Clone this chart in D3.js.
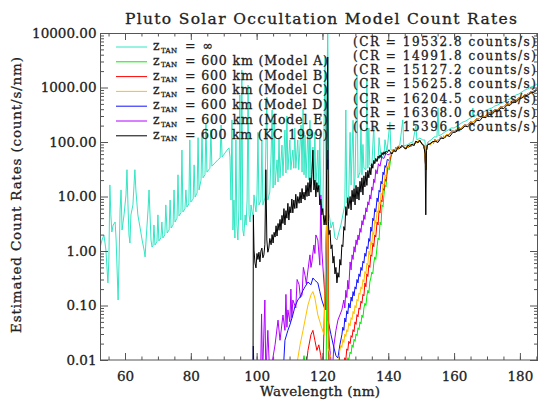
<!DOCTYPE html>
<html>
<head>
<meta charset="utf-8">
<script src="https://cdn.jsdelivr.net/npm/d3@7/dist/d3.min.js"></script>
<style>
  body { margin: 0; background: #fff; }
  svg text { font-family: "DejaVu Serif", serif; fill: #222; stroke: #222; stroke-width: 0.3px; }
</style>
</head>
<body>
<svg id="chart" width="542" height="403"></svg>
<script>
// [wavelength nm, count rate counts/s/nm]
var zInf = [
    [52.4,1.13],[53.0,1.59],[53.6,1.97],[54.2,1.04],[54.8,0.26],[55.1,0.68],[55.4,16.3],[55.7,4.6],[56.0,2.23],
    [56.4,3.0],[57.0,3.4],[57.3,1.59],[57.9,0.126],[58.2,0.68],[58.5,5.65],[58.8,13.2],[59.1,2.43],[59.7,4.6],
    [60.3,10.7],[60.6,31],[60.9,7.0],[61.2,1.97],[61.5,1.40],[61.8,4.6],[62.4,7.0],[63.0,31],[63.3,13.2],
    [63.9,4.6],[64.6,2.64],[65.2,1.59],[65.8,1.04],[66.1,0.78],[66.4,1.59],[67.0,5.65],[67.3,13.2],[67.6,4.6],
    [67.9,1.59],[68.2,1.18],[68.5,1.24],[68.8,3.0],[69.1,1.29],[69.7,1.46],[70.0,4.6],[70.3,1.53],[70.9,1.73],
    [71.2,3.4],[71.5,1.73],[72.1,1.97],[72.4,7.0],[72.8,2.14],[73.4,2.43],[73.7,8.6],[74.0,2.64],[74.6,3.0],
    [74.9,13.2],[75.2,3.4],[75.8,4.0],[76.1,25],[76.4,4.4],[77.0,5.0],[77.3,71],[77.6,5.2],[78.2,5.9],
    [78.5,13.2],[78.8,6.4],[79.4,7.3],[79.7,109],[80.0,7.9],[80.7,9.0],[81.0,38],[81.3,9.8],[81.9,11.6],
    [82.2,120],[82.5,13.2],[82.8,16.3],[83.1,20],[83.4,150],[83.7,22],[84.3,25],[84.6,220],[84.9,28],
    [85.8,33],[86.1,166],[86.4,36],[87.3,41],[88.2,47],[88.9,51],[89.2,205],[89.5,53],[90.4,63],[91.0,71],
    [91.6,78],[91.9,53],[92.2,8.6],[92.5,254],[92.8,2.43],[93.1,8.6],[93.4,1.73],[93.7,109],[94.0,3.0],
    [94.3,1.59],[94.6,5.65],[94.9,728],[95.2,3.7],[95.5,2100],[95.8,2.43],[96.1,1.88],[96.5,4.6],[96.8,3.0],
    [97.1,8.6],[97.4,1110],[97.7,4.6],[98.0,3.4],[98.3,7.0],[98.6,5.2],[98.9,4.6],[99.2,10.7],[99.5,7.0],
    [99.8,5.2],[100.1,10.7],[100.4,150],[100.7,7.0],[101.3,8.6],[101.6,109],[101.9,7.0],[102.5,9.4],[103.1,670],
    [103.4,8.6],[104.0,12.1],[104.4,60],[104.7,387],[105.0,14.3],[105.3,250],[105.6,16.3],[106.2,47],[106.5,18.5],
    [106.8,120],[107.1,22],[107.7,88],[108.0,24],[108.6,166],[108.9,27],[109.2,300],[109.5,31],[110.1,109],
    [110.4,31],[111.0,71],[111.3,33],[111.6,180],[111.9,33],[112.5,109],[112.8,31],[113.5,205],[113.8,28],
    [114.1,400],[114.4,25],[114.7,134],[115.0,22],[115.6,166],[115.9,20],[116.2,250],[116.5,17.7],[117.1,81],
    [117.4,16.3],[117.7,150],[118.0,14.9],[118.6,71],[118.9,13.2],[119.2,120],[119.5,8.6],[120.1,5.2],
    [120.8,3630],[121.1,4.6],[121.6,17300],[122.0,5.0],[122.6,2.64],[123.2,3.4],[123.8,1.73],[124.4,1.59],
    [125.0,2.23],[125.6,3.0],[126.2,4.6],[126.8,7.0],[127.1,387],[127.4,7.6],[128.0,10.7],[128.4,150],
    [128.7,16.3],[129.3,250],[129.6,14.3],[129.9,22],[130.5,1700],[130.8,22],[131.4,28],[131.7,200],[132.0,25],
    [132.3,90],[132.6,33],[133.2,31],[133.5,1370],[133.8,33],[134.1,180],[134.4,38],[135.0,35],[135.6,205],
    [135.9,41],[136.9,47],[137.2,120],[137.8,51],[138.7,58],[139.0,110],[139.6,66],[140.5,233],[140.8,71],
    [141.7,71],[142.6,81],[143.5,88],[144.4,254],[144.7,85],[145.7,88],[146.6,96],[147.5,100],[148.4,205],
    [148.7,109],[149.6,118],[150.5,109],[151.1,109],[151.4,71],[152.0,100],[153.0,109],[153.9,124],[154.8,124],
    [155.1,421],[155.4,129],[156.3,139],[157.2,153],[158.2,166],[159.1,181],[160.0,181],[160.9,196],[161.8,214],
    [162.7,233],[163.6,243],[164.5,265],[165.5,288],[165.7,421],[166.0,288],[166.9,313],[167.8,327],[168.7,356],
    [169.7,371],[170.6,404],[171.5,421],[172.4,458],[173.3,478],[174.2,520],[175.1,543],[176.1,590],[177.0,615],
    [177.9,670],[178.8,728],[179.7,760],[180.6,828],[181.5,900],[182.4,940],[183.3,1020],[184.3,1070],
    [185.2,1160],[185.8,1210]
];

var modelA = [
    [113.2,0.005],[114.4,0.012],[115.3,0.005],[121.1,0.005],[121.6,20],[122.0,0.005],[127.1,0.005],
    [127.7,0.011],[128.0,0.01],[128.4,0.014],[128.7,0.013],[129.0,0.019],[129.3,0.017],[129.6,0.024],
    [129.9,0.022],[130.2,0.03],[130.5,0.028],[130.8,0.039],[131.1,0.036],[131.4,0.05],[131.7,0.046],
    [132.0,0.067],[132.3,0.06],[132.6,0.09],[132.9,0.11],[133.2,0.1],[133.5,0.15],[133.8,0.19],[134.1,0.17],
    [134.4,0.27],[134.7,0.32],[135.0,0.41],[135.3,0.38],[135.6,0.6],[135.9,0.78],[136.2,0.7],[136.6,1.2],
    [136.9,1.73],[137.2,1.6],[137.5,3.4],[137.8,3.0],[138.1,7.0],[138.4,6.5],[138.7,11],[139.0,16.3],
    [139.3,15],[139.6,25],[139.9,33],[140.3,31],[140.8,53]
];

var modelB = [
    [114.7,0.005],[115.6,0.015],[116.5,0.029],[117.1,0.035],[117.7,0.023],[118.3,0.015],[118.9,0.019],
    [119.5,0.012],[120.1,0.005],[121.6,25],[122.0,0.005],[126.2,0.005],[126.5,0.009],[126.8,0.011],
    [127.1,0.01],[127.4,0.016],[127.7,0.015],[128.0,0.022],[128.4,0.02],[128.7,0.028],[129.0,0.026],
    [129.3,0.036],[129.6,0.033],[129.9,0.05],[130.2,0.045],[130.5,0.068],[130.8,0.062],[131.1,0.09],
    [131.4,0.085],[131.7,0.12],[132.0,0.11],[132.3,0.16],[132.6,0.15],[132.9,0.26],[133.2,0.22],[133.5,0.38],
    [133.8,0.34],[134.1,0.55],[134.4,0.5],[134.7,0.85],[135.0,0.8],[135.3,1.4],[135.6,1.2],[135.9,1.97],
    [136.2,1.8],[136.6,3.4],[136.9,3.0],[137.2,5.5],[137.5,5.0],[137.8,8.6],[138.1,8.0],[138.4,14],
    [138.7,13],[139.0,21],[139.3,19],[139.7,32],[140.2,40]
];

var modelC = [
    [111.6,0.005],[113.2,0.019],[114.1,0.035],[114.7,0.054],[115.6,0.102],[116.5,0.156],[117.1,0.18],
    [117.7,0.137],[118.6,0.067],[119.5,0.044],[120.5,0.029],[121.6,31],[121.7,0.0166],[122.6,0.011],
    [123.5,0.005],[124.4,0.005],[125.3,0.015],[125.6,0.019],[125.9,0.017],[126.2,0.024],[126.5,0.021],
    [126.8,0.03],[127.1,0.027],[127.4,0.036],[127.7,0.033],[128.0,0.048],[128.4,0.042],[128.7,0.06],
    [129.0,0.055],[129.3,0.078],[129.6,0.07],[129.9,0.1],[130.2,0.09],[130.5,0.13],[130.8,0.12],[131.1,0.17],
    [131.4,0.16],[131.7,0.22],[132.0,0.2],[132.3,0.3],[132.6,0.27],[132.9,0.42],[133.2,0.38],[133.5,0.6],
    [133.8,0.55],[134.1,1.0],[134.4,0.85],[134.7,1.5],[135.0,1.3],[135.3,2.3],[135.6,2.0],[135.9,3.7],
    [136.2,3.2],[136.6,5.5],[136.9,5.0],[137.2,8.0],[137.5,7.2],[137.8,11.6],[138.1,10.5],[138.4,17],
    [138.7,16],[139.0,25],[139.3,23],[139.6,36],[140.0,34],[140.5,53]
];

var modelD = [
    [98.9,0.005],[99.0,0.018],[99.2,0.005],[108.0,0.005],[108.6,0.023],[109.5,0.035],[110.1,0.044],
    [111.0,0.067],[111.6,0.094],[112.5,0.126],[113.2,0.143],[114.1,0.19],[114.7,0.22],[115.6,0.27],
    [116.5,0.24],[117.1,0.32],[117.7,0.29],[118.6,0.26],[119.2,0.18],[119.8,0.126],[120.8,0.083],
    [121.6,47],[121.7,0.054],[122.6,0.029],[123.5,0.0166],[124.1,0.012],[124.7,0.0109],[125.3,0.019],
    [125.9,0.029],[126.2,0.04],[126.5,0.035],[126.8,0.059],[127.1,0.05],[127.4,0.08],[127.7,0.07],
    [128.0,0.11],[128.4,0.09],[128.7,0.143],[129.0,0.12],[129.3,0.18],[129.6,0.15],[129.9,0.22],[130.2,0.2],
    [130.5,0.3],[130.8,0.26],[131.1,0.38],[131.4,0.34],[131.7,0.5],[132.0,0.44],[132.3,0.65],[132.6,0.6],
    [132.9,0.91],[133.2,0.8],[133.5,1.2],[133.8,1.1],[134.1,1.7],[134.4,1.5],[134.7,2.75],[135.0,2.3],
    [135.3,4.0],[135.6,3.6],[135.9,6.0],[136.2,5.2],[136.6,9.4],[136.9,8.0],[137.2,13],[137.5,12],
    [137.8,19],[138.1,17],[138.4,28],[138.7,25],[139.0,37],[139.3,34],[139.7,48],[140.2,46]
];

var modelE = [
    [101.2,0.005],[101.5,0.07],[101.8,0.005],[102.5,0.126],[102.8,0.005],[103.4,0.035],[104.0,0.005],
    [105.6,0.019],[106.5,0.054],[107.1,0.023],[108.0,0.067],[108.6,0.035],[108.9,0.16],[109.2,0.04],
    [109.5,0.083],[110.1,0.050],[110.4,0.2],[110.7,0.06],[111.0,0.126],[111.9,0.090],[112.3,0.3],[112.9,0.24],
    [113.3,0.14],[113.8,0.156],[114.2,0.5],[114.7,0.36],[115.1,0.25],[115.6,0.45],[116.2,0.85],[116.5,0.5],
    [116.8,0.63],[117.4,1.29],[117.7,0.9],[118.0,1.97],[118.6,1.59],[119.2,0.55],[119.5,10.7],[119.8,1.04],
    [120.5,0.24],[121.1,0.083],[121.6,71],[121.7,0.035],[122.3,0.015],[122.9,0.005],[123.5,0.019],
    [124.1,0.035],[124.7,0.054],[125.3,0.067],[125.9,0.083],[126.5,0.126],[126.8,0.09],[127.1,0.19],
    [127.4,0.14],[127.7,0.29],[128.0,0.2],[128.4,0.63],[128.7,0.45],[129.0,0.85],[129.3,0.7],[129.6,1.2],
    [129.9,0.95],[130.2,1.6],[130.5,1.3],[130.8,1.97],[131.1,1.6],[131.4,2.6],[131.7,2.2],[132.0,3.6],
    [132.3,3.0],[132.6,4.6],[132.9,3.8],[133.2,6.2],[133.5,5.2],[133.8,8.0],[134.1,7.0],[134.4,10.7],
    [134.7,9.0],[135.0,15],[135.3,13],[135.6,21],[135.9,18],[136.2,31],[136.6,26],[137.0,40],[137.5,36],
    [138.0,52],[138.7,50],[139.3,62],[139.9,58]
];

// the five models share the same spectrum longward of ~141 nm
var modelTail = [
    [141.1,63],[141.5,72],[142.0,68],[142.4,80],[142.9,74],[143.3,84],[143.8,78],[144.2,88],[144.7,82],
    [145.1,76],[145.7,84],[146.1,80],[146.6,90],[147.0,84],[147.5,92],[147.9,88],[148.4,102],[148.8,96],
    [149.3,108],[149.7,100],[150.2,96],[150.5,90],[150.8,86],[151.1,70],[151.4,31],[151.6,70],[151.9,88],
    [152.3,94],[152.8,90],[153.3,100],[153.7,96],[154.2,110],[154.6,104],[155.1,108],[155.5,114],[156.0,124],
    [156.4,118],[156.9,128],[157.3,124],[157.8,140],[158.2,132],[158.7,142],[159.2,150],[159.6,160],
    [160.1,152],[160.5,166],[161.0,172],[161.5,180],[161.9,176],[162.4,186],[162.8,196],[163.3,205],
    [163.7,200],[164.2,212],[164.6,222],[165.1,233],[165.5,226],[166.0,240],[166.4,252],[166.9,265],
    [167.3,258],[167.8,272],[168.2,288],[168.7,300],[169.2,292],[169.7,308],[170.1,325],[170.6,340],
    [171.0,332],[171.5,350],[172.0,370],[172.4,387],[172.8,378],[173.3,395],[173.8,420],[174.2,440],
    [174.6,430],[175.1,452],[175.6,480],[176.1,500],[176.5,490],[177.0,512],[177.4,545],[177.9,565],
    [178.3,555],[178.8,580],[179.3,620],[179.7,640],[180.2,630],[180.6,670],[181.1,700],[181.5,728],
    [182.0,720],[182.4,760],[182.9,800],[183.3,828],[183.8,820],[184.3,865],[184.8,900],[185.2,940],
    [185.8,980]
];

var kc1999 = [
    [98.9,0.005],[99.0,4.6],[99.2,1.04],[99.5,0.6],[99.8,0.49],[100.1,0.9],[100.4,0.7],[100.7,0.95],
    [101.0,0.63],[101.3,1.0],[101.6,1.13],[101.9,0.75],[102.2,0.85],[102.5,1.3],[102.8,31],[103.1,1.59],
    [103.4,0.95],[103.7,1.13],[104.0,1.7],[104.4,1.3],[104.7,2.0],[105.0,1.40],[105.3,2.2],[105.6,1.8],
    [105.9,2.9],[106.2,1.88],[106.5,3.2],[106.8,2.4],[107.1,3.8],[107.4,2.43],[107.7,4.5],[108.0,3.2],
    [108.3,6.0],[108.6,3.0],[108.9,5.5],[109.2,4.0],[109.5,7.5],[109.8,3.7],[110.1,6.5],[110.4,5.0],
    [110.7,9.0],[111.0,5.0],[111.3,8.6],[111.6,6.0],[111.9,11],[112.2,6.1],[112.5,10],[112.9,7.5],[113.2,12],
    [113.5,7.6],[113.8,14],[114.1,9.0],[114.4,12],[114.7,8.6],[115.0,16],[115.3,10],[115.6,18],[115.9,10.2],
    [116.2,22],[116.5,12],[116.8,25],[117.1,71],[117.4,13.2],[117.7,20],[118.0,9.8],[118.3,18],[118.6,12],
    [118.9,16],[119.2,7.0],[119.5,9],[119.8,4.6],[120.1,6],[120.5,3.0],[120.8,4.5],[121.1,3.0],[121.6,3630],
    [121.8,3.5],[122.0,2.0],[122.3,2.4],[122.6,1.1],[122.9,1.3],[123.2,0.6],[123.5,0.8],[123.8,0.38],
    [124.1,0.5],[124.4,0.26],[124.7,0.4],[125.0,0.33],[125.3,0.7],[125.6,0.55],[125.9,1.3],[126.2,1.2],
    [126.5,2.8],[126.8,2.4],[127.1,6.5],[127.4,4.5],[127.7,9.5],[128.0,6.0],[128.4,10],[128.7,5.65],
    [129.0,13],[129.3,8],[129.6,14],[129.9,7.0],[130.2,16],[130.5,9],[130.8,15],[131.1,8.6],[131.4,19],
    [131.7,12],[132.0,22],[132.3,10.7],[132.6,24],[132.9,15],[133.2,28],[133.5,16],[133.8,30],[134.1,22],
    [134.4,34],[134.7,25],[135.0,40],[135.3,33],[135.6,46],[135.9,40],[136.2,50],[136.6,44],[136.9,55],
    [137.2,50],[137.5,58],[137.8,52],[138.1,64],[138.4,58],[138.7,66],[139.0,60],[139.3,68],[139.7,64],
    [140.2,72],[140.6,66],
    [141.1,60],[141.7,70],[142.3,66],[142.9,80],[143.5,76],[144.1,86],[144.7,80],[145.4,74],[146.0,88],
    [146.6,82],[147.2,92],[147.8,86],[148.4,104],[149.0,96],[149.6,108],[150.2,92],[150.8,84],[151.2,60],
    [151.4,4.6],[151.6,70],[151.9,88],[152.6,92],[153.3,100],[154.2,104],[155.1,98],[156.0,118],[156.9,116],
    [157.8,132],[158.7,126],[159.6,150],[160.5,152],[161.5,170],[162.4,172],[163.3,196],[164.2,190],
    [165.1,222],[166.0,216],[166.9,250],[167.8,246],[168.7,285],[169.7,280],[170.6,322],[171.5,318],
    [172.4,368],[173.3,360],[174.2,420],[175.1,410],[176.1,475],[177.0,470],[177.9,540],[178.8,530],
    [179.7,610],[180.6,640],[181.5,700],[182.4,720],[183.3,790],[184.3,820],[185.2,900],[185.8,940]
];

var legendLabels = ["= \u221E", "= 600 km (Model A)", "= 600 km (Model B)", "= 600 km (Model C)",
    "= 600 km (Model D)", "= 600 km (Model E)", "= 600 km (KC 1999)"];
var countRates = ["19532.8", "14991.8", "15127.2", "15625.8", "16204.5", "16368.0", "15396.1"];
var xTicks = [60, 80, 100, 120, 140, 160, 180];
var yTicks = [0.01, 0.1, 1, 10, 100, 1000, 10000];

var lineColors = ["#33e6c4", "#00ee00", "#ff0000", "#ffc000", "#1010ff", "#b000ff", "#000000"];

var svg = d3.select("#chart"),
    margin = {top: 33, right: 4, bottom: 43, left: 100},
    width = +svg.attr("width") - margin.left - margin.right,
    height = +svg.attr("height") - margin.top - margin.bottom;

svg.append("rect").attr("width", 542).attr("height", 403).attr("fill", "#fff");

var g = svg.append("g").attr("transform", "translate(" + margin.left + "," + margin.top + ")");

var x = d3.scaleLinear().domain([52.4, 185.5]).range([0, width]);
var y = d3.scaleLog().domain([0.01, 10000]).range([height, 0]);

svg.append("defs").append("clipPath").attr("id", "plotclip")
    .append("rect").attr("width", width).attr("height", height);

var line = d3.line()
    .x(function (d) { return x(d[0]); })
    .y(function (d) { return y(d[1]); });

// drawing order: z=inf first, KC 1999 last
var series = [
    {data: zInf, color: lineColors[0]},
    {data: modelE.concat(modelTail), color: lineColors[5]},
    {data: modelD.concat(modelTail), color: lineColors[4]},
    {data: modelA.concat(modelTail), color: lineColors[1]},
    {data: modelB.concat(modelTail), color: lineColors[2]},
    {data: modelC.concat(modelTail), color: lineColors[3]},
    {data: kc1999, color: lineColors[6]}
];

g.append("g").attr("clip-path", "url(#plotclip)")
    .selectAll("path")
    .data(series)
    .enter().append("path")
    .attr("d", function (d) { return line(d.data); })
    .attr("fill", "none")
    .attr("stroke", function (d) { return d.color; })
    .attr("stroke-width", 1);

// axes, IDL style: ticks point inward on all four sides
var minorX = d3.range(55, 186, 5);
var minorY = [];
yTicks.slice(0, -1).forEach(function (t) {
    for (var k = 2; k < 10; k++) minorY.push(t * k);
});

function styleAxis(sel) {
    sel.select(".domain").remove();
    sel.selectAll("line").attr("stroke", "#555");
    sel.selectAll("text")
        .attr("font-family", "DejaVu Serif")
        .attr("font-size", 13.5)
        .attr("fill", "#222");
}

g.append("g").attr("transform", "translate(0," + height + ")")
    .call(d3.axisBottom(x).tickValues(xTicks).tickSize(-7).tickSizeOuter(0).tickPadding(11).tickFormat(d3.format("d")))
    .call(styleAxis);
g.append("g").attr("transform", "translate(0," + height + ")")
    .call(d3.axisBottom(x).tickValues(minorX).tickSize(-3.5).tickSizeOuter(0).tickFormat(""))
    .call(styleAxis);
g.append("g")
    .call(d3.axisTop(x).tickValues(xTicks).tickSize(-7).tickSizeOuter(0).tickFormat(""))
    .call(styleAxis);
g.append("g")
    .call(d3.axisTop(x).tickValues(minorX).tickSize(-3.5).tickSizeOuter(0).tickFormat(""))
    .call(styleAxis);

g.append("g")
    .call(d3.axisLeft(y).tickValues(yTicks).tickSize(-8).tickSizeOuter(0).tickPadding(3.5).tickFormat(d3.format(".2f")))
    .call(styleAxis);
g.append("g")
    .call(d3.axisLeft(y).tickValues(minorY).tickSize(-4).tickSizeOuter(0).tickFormat(""))
    .call(styleAxis);
g.append("g").attr("transform", "translate(" + width + ",0)")
    .call(d3.axisRight(y).tickValues(yTicks).tickSize(-8).tickSizeOuter(0).tickFormat(""))
    .call(styleAxis);
g.append("g").attr("transform", "translate(" + width + ",0)")
    .call(d3.axisRight(y).tickValues(minorY).tickSize(-4).tickSizeOuter(0).tickFormat(""))
    .call(styleAxis);

g.append("rect")
    .attr("x", 0.5).attr("y", 0.5)
    .attr("width", width - 1).attr("height", height - 0.5)
    .attr("fill", "none")
    .attr("stroke", "#555")
    .attr("stroke-width", 1);

// titles
svg.append("text")
    .attr("x", 321).attr("y", 24)
    .attr("text-anchor", "middle")
    .attr("font-size", 15.5)
    .attr("textLength", 392)
    .attr("lengthAdjust", "spacing")
    .text("Pluto Solar Occultation Model Count Rates");

svg.append("text")
    .attr("x", 320).attr("y", 396)
    .attr("text-anchor", "middle")
    .attr("font-size", 13.5)
    .attr("textLength", 120)
    .attr("lengthAdjust", "spacing")
    .text("Wavelength (nm)");

svg.append("text")
    .attr("transform", "translate(21,195) rotate(-90)")
    .attr("text-anchor", "middle")
    .attr("font-size", 13.5)
    .attr("textLength", 276)
    .attr("lengthAdjust", "spacing")
    .text("Estimated Count Rates (count/s/nm)");

// legend
var legend = svg.append("g")
    .selectAll("g")
    .data(legendLabels)
    .enter().append("g")
    .attr("transform", function (d, i) {
        return "translate(0," + (47 + i * 14.8) + ")";
    });

legend.append("line")
    .attr("x1", 116).attr("x2", 147)
    .attr("stroke", function (d, i) { return lineColors[i]; })
    .attr("stroke-width", 1);

legend.append("text")
    .attr("x", 153).attr("y", 3)
    .attr("font-size", 12.5)
    .text("z");

legend.append("text")
    .attr("x", 161).attr("y", 5.5)
    .attr("font-size", 7)
    .attr("textLength", 16)
    .attr("lengthAdjust", "spacing")
    .text("TAN");

legend.append("text")
    .attr("x", 185).attr("y", 3)
    .attr("font-size", 12.5)
    .attr("textLength", function (d, i) { return i === 0 ? 28 : 143; })
    .attr("lengthAdjust", "spacing")
    .text(function (d) { return d; });

svg.append("g")
    .selectAll("text")
    .data(countRates)
    .enter().append("text")
    .attr("x", 353)
    .attr("y", function (d, i) { return 45.5 + i * 14.3; })
    .attr("font-size", 12)
    .attr("textLength", 183)
    .attr("lengthAdjust", "spacing")
    .text(function (d) { return "(CR = " + d + " counts/s)"; });
</script>
</body>
</html>
